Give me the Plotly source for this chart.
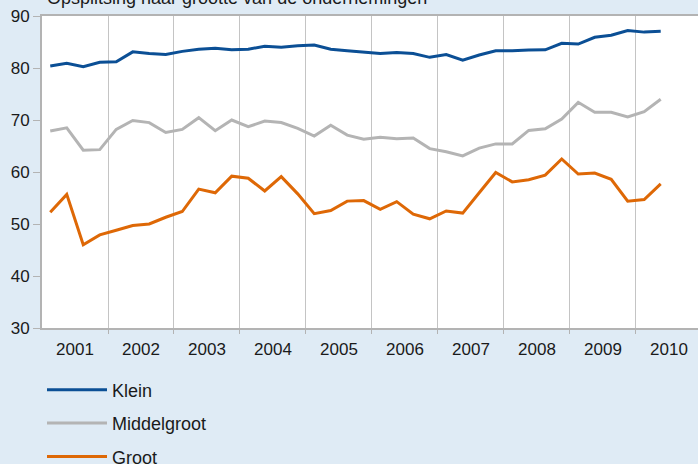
import plotly.graph_objects as go

years = list(range(2001, 2011))
quarters = [y + (q - 0.5) / 4 for y in years for q in range(1, 5)][:38]
year_labels = [str(y) for y in years]

klein = [80.4, 80.9, 80.25, 81.1,
         81.2, 83.1, 82.8, 82.6,
         83.2, 83.6, 83.8, 83.5,
         83.6, 84.2, 84.0, 84.3,
         84.4, 83.6, 83.3, 83.0,
         82.8, 83.0, 82.8, 82.05,
         82.6, 81.5, 82.5, 83.3,
         83.3, 83.45, 83.5, 84.75,
         84.6, 85.9, 86.3, 87.2,
         86.9, 87.05]
middelgroot = [67.9, 68.5, 64.2, 64.3,
               68.2, 69.9, 69.5, 67.6,
               68.2, 70.45, 67.95, 70.0,
               68.7, 69.8, 69.5, 68.4,
               66.9, 69.0, 67.1, 66.3,
               66.7, 66.4, 66.55, 64.5,
               63.9, 63.1, 64.6, 65.4,
               65.4, 68.0, 68.3, 70.2,
               73.4, 71.5, 71.5, 70.6,
               71.6, 74.0]
groot = [52.25, 55.7, 46.0, 47.9,
         48.8, 49.7, 50.0, 51.3,
         52.4, 56.7, 56.0, 59.2,
         58.8, 56.35, 59.1, 55.8,
         52.0, 52.6, 54.4, 54.5,
         52.8, 54.3, 51.9, 51.0,
         52.5, 52.1, 56.0, 59.9,
         58.1, 58.5, 59.4, 62.5,
         59.6, 59.8, 58.6, 54.4,
         54.7, 57.7]

series = [("Klein", klein, "#0b4f95"),
          ("Middelgroot", middelgroot, "#b4b4b4"),
          ("Groot", groot, "#de6806")]

FONT = "Liberation Sans, Arial, sans-serif"
BG = "#dfebf5"
AXIS = "#b3b3b3"

fig = go.Figure()
for name, vals, col in series:
    fig.add_trace(go.Scatter(x=quarters, y=vals, name=name, mode="lines",
                             legendgroup=name,
                             line=dict(color=col, width=3)))

fig.update_layout(
    width=698, height=464,
    margin=dict(l=42, r=0, t=16, b=136, autoexpand=False),
    paper_bgcolor=BG, plot_bgcolor="white",
    font=dict(family=FONT, size=17, color="#1a1a1a"),
    showlegend=True,
    legend=dict(x=0.0, xanchor="left", y=-0.1395, yanchor="top",
                bgcolor="rgba(0,0,0,0)", font=dict(size=18),
                tracegroupgap=7, itemwidth=60),
    xaxis=dict(range=[2001, 2010.94], tickvals=[y + 0.5 for y in years],
               ticktext=year_labels, ticks="", showgrid=False,
               ticklabelstandoff=5, automargin=False,
               showline=True, linecolor=AXIS, linewidth=2, mirror=True,
               zeroline=False,
               minor=dict(tickvals=years[1:], showgrid=True, gridcolor="#c4c4c4",
                          gridwidth=1, ticks="outside", ticklen=4,
                          tickcolor=AXIS)),
    yaxis=dict(range=[30, 90], tickvals=[30, 40, 50, 60, 70, 80, 90],
               ticks="outside", ticklen=7, tickcolor=AXIS, tickwidth=1,
               automargin=False,
               showgrid=False, showline=True, linecolor=AXIS, linewidth=2,
               zeroline=False),
    annotations=[dict(text="Opsplitsing naar grootte van de ondernemingen",
                      xref="paper", yref="paper", x=0.005, y=1 + 6 / 312,
                      xanchor="left", yanchor="bottom", showarrow=False,
                      font=dict(size=18, color="#1a1a1a"))],
)

fig.write_html("out.html", config={"displayModeBar": False},
               post_script="document.body.style.margin='0px';document.body.style.overflow='hidden';")
